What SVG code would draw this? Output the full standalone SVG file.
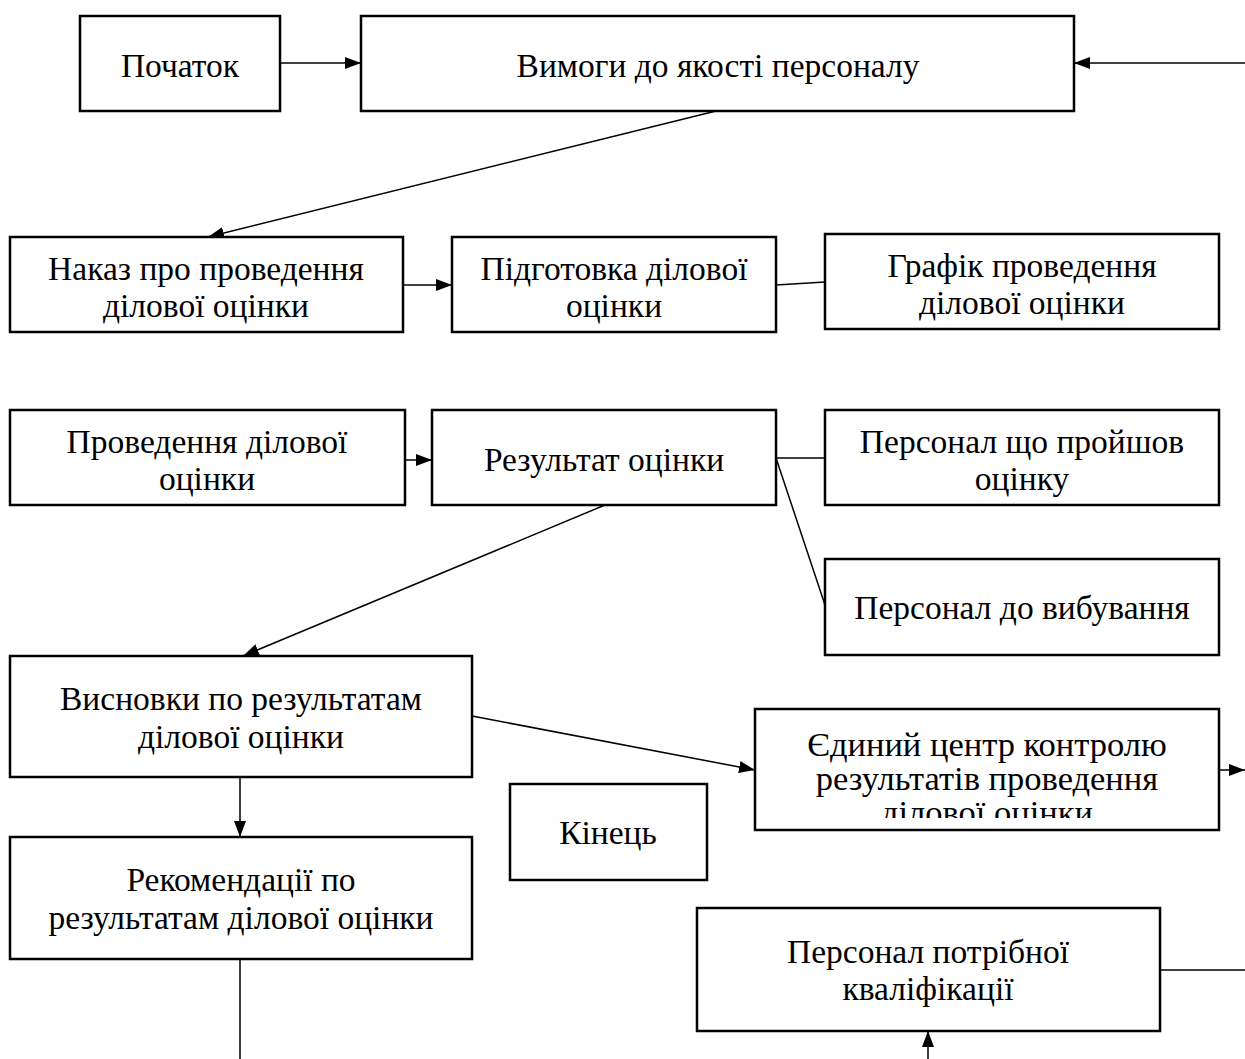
<svg xmlns="http://www.w3.org/2000/svg" width="1245" height="1059" viewBox="0 0 1245 1059">
<style>
.box{fill:#fff;stroke:#000;stroke-width:2.5}
.t{font-family:"Liberation Serif","DejaVu Serif",serif;font-size:33.5px;fill:#000;text-anchor:middle}
.t2{font-size:34.5px}
.c{fill:none;stroke:#000;stroke-width:1.5}
.a{marker-end:url(#ah)}
</style>
<defs>
<marker id="ah" viewBox="0 0 16 12" refX="16" refY="6" markerWidth="16" markerHeight="12" markerUnits="userSpaceOnUse" orient="auto">
<path d="M0,0 L16,6 L0,12 z" fill="#000"/>
</marker>
<clipPath id="clipE"><rect x="757" y="711" width="460" height="107"/></clipPath>
</defs>
<rect width="1245" height="1059" fill="#fff"/>
<g id="connectors">
<line class="c a" x1="280" y1="63" x2="361" y2="63"/>
<line class="c a" x1="1245" y1="63" x2="1074" y2="63"/>
<line class="c a" x1="716" y1="111" x2="208" y2="237"/>
<line class="c a" x1="403" y1="285" x2="452" y2="285"/>
<line class="c" x1="776" y1="285" x2="825" y2="282"/>
<line class="c a" x1="405" y1="460" x2="432" y2="460"/>
<line class="c" x1="776" y1="458" x2="825" y2="458"/>
<line class="c" x1="776" y1="458" x2="825" y2="605"/>
<line class="c a" x1="605" y1="505" x2="243" y2="656"/>
<line class="c a" x1="472" y1="716" x2="755" y2="770"/>
<line class="c a" x1="1219" y1="770" x2="1245" y2="770"/>
<line class="c a" x1="240" y1="777" x2="240" y2="837"/>
<line class="c" x1="240" y1="959" x2="240" y2="1059"/>
<line class="c" x1="1160" y1="970" x2="1245" y2="970"/>
<line class="c a" x1="928" y1="1059" x2="928" y2="1031"/>
</g>
<g id="n-start"><rect class="box" x="80" y="16" width="200" height="95"/><text class="t" x="180" y="77">Початок</text></g>
<g id="n-vymogy"><rect class="box" x="361" y="16" width="713" height="95"/><text class="t" x="718" y="77">Вимоги до якості персоналу</text></g>
<g id="n-nakaz"><rect class="box" x="10" y="237" width="393" height="95"/><text class="t" x="206" y="280">Наказ про проведення</text><text class="t" x="206" y="317">ділової оцінки</text></g>
<g id="n-pidgotovka"><rect class="box" x="452" y="237" width="324" height="95"/><text class="t" x="614" y="280">Підготовка ділової</text><text class="t" x="614" y="317">оцінки</text></g>
<g id="n-grafik"><rect class="box" x="825" y="234" width="394" height="95"/><text class="t" x="1022" y="277">Графік проведення</text><text class="t" x="1022" y="314">ділової оцінки</text></g>
<g id="n-provedennia"><rect class="box" x="10" y="410" width="395" height="95"/><text class="t" x="207" y="453">Проведення ділової</text><text class="t" x="207" y="490">оцінки</text></g>
<g id="n-rezultat"><rect class="box" x="432" y="410" width="344" height="95"/><text class="t" x="604" y="471">Результат оцінки</text></g>
<g id="n-proishov"><rect class="box" x="825" y="410" width="394" height="95"/><text class="t" x="1022" y="453">Персонал що пройшов</text><text class="t" x="1022" y="490">оцінку</text></g>
<g id="n-vybuvannia"><rect class="box" x="825" y="559" width="394" height="96"/><text class="t" x="1022" y="619">Персонал до вибування</text></g>
<g id="n-vysnovky"><rect class="box" x="10" y="656" width="462" height="121"/><text class="t" x="241" y="710">Висновки по результатам</text><text class="t" x="241" y="748">ділової оцінки</text></g>
<g id="n-tsentr"><rect class="box" x="755" y="709" width="464" height="121"/><g clip-path="url(#clipE)"><text class="t t2" x="987" y="756">Єдиний центр контролю</text><text class="t t2" x="987" y="790">результатів проведення</text><text class="t t2" x="987" y="824">ділової оцінки</text></g></g>
<g id="n-kinets"><rect class="box" x="510" y="784" width="197" height="96"/><text class="t" x="608" y="844">Кінець</text></g>
<g id="n-rekomendatsii"><rect class="box" x="10" y="837" width="462" height="122"/><text class="t" x="241" y="891">Рекомендації по</text><text class="t" x="241" y="929">результатам ділової оцінки</text></g>
<g id="n-potribnoi"><rect class="box" x="697" y="908" width="463" height="123"/><text class="t" x="928" y="963">Персонал потрібної</text><text class="t" x="928" y="1000">кваліфікації</text></g>
</svg>
